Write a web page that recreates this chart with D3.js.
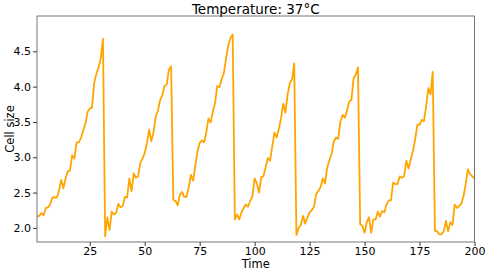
<!DOCTYPE html>
<html>
<head>
<meta charset="utf-8">
<script src="https://cdn.jsdelivr.net/npm/d3@7"></script>
<style>
    body { margin: 0; background: #fff; }
    text { font-family: "DejaVu Sans", sans-serif; fill: #000; }
</style>
</head>
<body>
<div id="chart"></div>
<script>
// cell size per time step, one array per growth/division cycle
const cycle1 = [2.16, 2.17, 2.21, 2.18, 2.28, 2.29, 2.33, 2.43, 2.43, 2.43, 2.52, 2.68, 2.56, 2.70, 2.80, 2.81,
    3.03, 2.98, 3.21, 3.21, 3.27, 3.38, 3.47, 3.64, 3.69, 3.70, 4.05, 4.18, 4.27, 4.40, 4.68];
const cycle2 = [1.88, 2.15, 1.97, 2.23, 2.19, 2.21, 2.34, 2.29, 2.31, 2.44, 2.43, 2.70, 2.52, 2.77, 2.71, 2.73,
    2.92, 2.98, 3.06, 3.20, 3.39, 3.23, 3.35, 3.57, 3.66, 3.81, 3.88, 4.01, 4.03, 4.24, 4.29];
const cycle3 = [2.40, 2.38, 2.32, 2.47, 2.51, 2.44, 2.44, 2.57, 2.75, 2.67, 2.88, 3.08, 3.20, 3.24, 3.21, 3.35,
    3.55, 3.49, 3.65, 3.77, 4.01, 3.99, 4.11, 4.19, 4.40, 4.58, 4.69, 4.74];
const cycle4 = [2.12, 2.19, 2.12, 2.22, 2.28, 2.33, 2.30, 2.38, 2.45, 2.70, 2.63, 2.50, 2.72, 2.73, 2.86, 2.99,
    2.95, 3.15, 3.35, 3.28, 3.40, 3.55, 3.76, 3.63, 3.89, 4.05, 4.10, 4.33];
const cycle5 = [1.90, 2.00, 2.04, 2.17, 2.06, 2.15, 2.22, 2.25, 2.30, 2.48, 2.52, 2.58, 2.70, 2.63, 2.85, 2.96,
    3.05, 3.22, 3.28, 3.26, 3.50, 3.60, 3.56, 3.66, 3.79, 3.81, 4.12, 4.17, 4.27];
const cycle6 = [2.05, 2.03, 1.93, 2.08, 2.15, 1.93, 2.12, 2.12, 2.23, 2.16, 2.24, 2.22, 2.33, 2.39, 2.39, 2.64,
    2.62, 2.62, 2.73, 2.71, 2.73, 2.95, 2.84, 2.97, 3.09, 3.25, 3.46, 3.46, 3.53, 3.51, 3.72, 3.98, 3.89, 4.21];
const cycle7 = [1.96, 1.95, 1.91, 1.91, 1.95, 2.10, 1.95, 2.08, 2.04, 2.33, 2.28, 2.31, 2.34, 2.45, 2.62, 2.83,
    2.76, 2.73, 2.70];

const xTicks = [25, 50, 75, 100, 125, 150, 175, 200];
const yTicks = [2.0, 2.5, 3.0, 3.5, 4.0, 4.5];

const cellSize = [].concat(cycle1, cycle2, cycle3, cycle4, cycle5, cycle6, cycle7);
// time starts at 1
const data = cellSize.map((v, i) => ({time: i + 1, size: v}));

let margin = {top: 16, right: 14.5, bottom: 31, left: 37};
let totalW = 489, totalH = 273;
let width = totalW - margin.left - margin.right;
let height = totalH - margin.top - margin.bottom;

let svg = d3.select("#chart").append("svg")
    .attr("width", totalW)
    .attr("height", totalH)
    .style("display", "block");

let g = svg.append("g")
    .attr("transform", "translate(" + margin.left + "," + margin.top + ")");

// scales
let x = d3.scaleLinear().domain([1, 200]).range([0, width]);
let y = d3.scaleLinear().domain([1.8, 5.0]).range([height, 0]);

// axes
let xAxis = g.append("g")
    .attr("transform", "translate(0," + height + ")")
    .call(d3.axisBottom(x).tickValues(xTicks).tickSize(4).tickPadding(1).tickFormat(d3.format("d")));

let yAxis = g.append("g")
    .call(d3.axisLeft(y).tickValues(yTicks).tickSize(4).tickPadding(2).tickFormat(d3.format(".1f")));

[xAxis, yAxis].forEach(a => {
    a.select(".domain").remove();
    a.selectAll(".tick line").attr("stroke", "#000").attr("stroke-width", 0.8);
    a.selectAll(".tick text")
        .style("font-family", "DejaVu Sans, sans-serif")
        .style("font-size", "11px")
        .attr("fill", "#000");
});

// line
let line = d3.line()
    .x(d => x(d.time))
    .y(d => y(d.size));

g.append("path")
    .datum(data)
    .attr("d", line)
    .attr("fill", "none")
    .attr("stroke", "#FFA500")
    .attr("stroke-width", 1.8)
    .attr("stroke-linejoin", "round");

// frame
g.append("rect")
    .attr("x", 0)
    .attr("y", 0)
    .attr("width", width)
    .attr("height", height)
    .attr("fill", "none")
    .attr("stroke", "#555")
    .attr("stroke-width", 0.8);

// title
svg.append("text")
    .attr("x", margin.left + width / 2)
    .attr("y", 14)
    .attr("text-anchor", "middle")
    .style("font-size", "13.5px")
    .text("Temperature: 37°C");

// axis labels
svg.append("text")
    .attr("x", margin.left + width / 2)
    .attr("y", 268)
    .attr("text-anchor", "middle")
    .style("font-size", "11.5px")
    .text("Time");

svg.append("text")
    .attr("transform", "translate(13.5," + (margin.top + height / 2) + ") rotate(-90)")
    .attr("text-anchor", "middle")
    .style("font-size", "11.5px")
    .text("Cell size");
</script>
</body>
</html>
